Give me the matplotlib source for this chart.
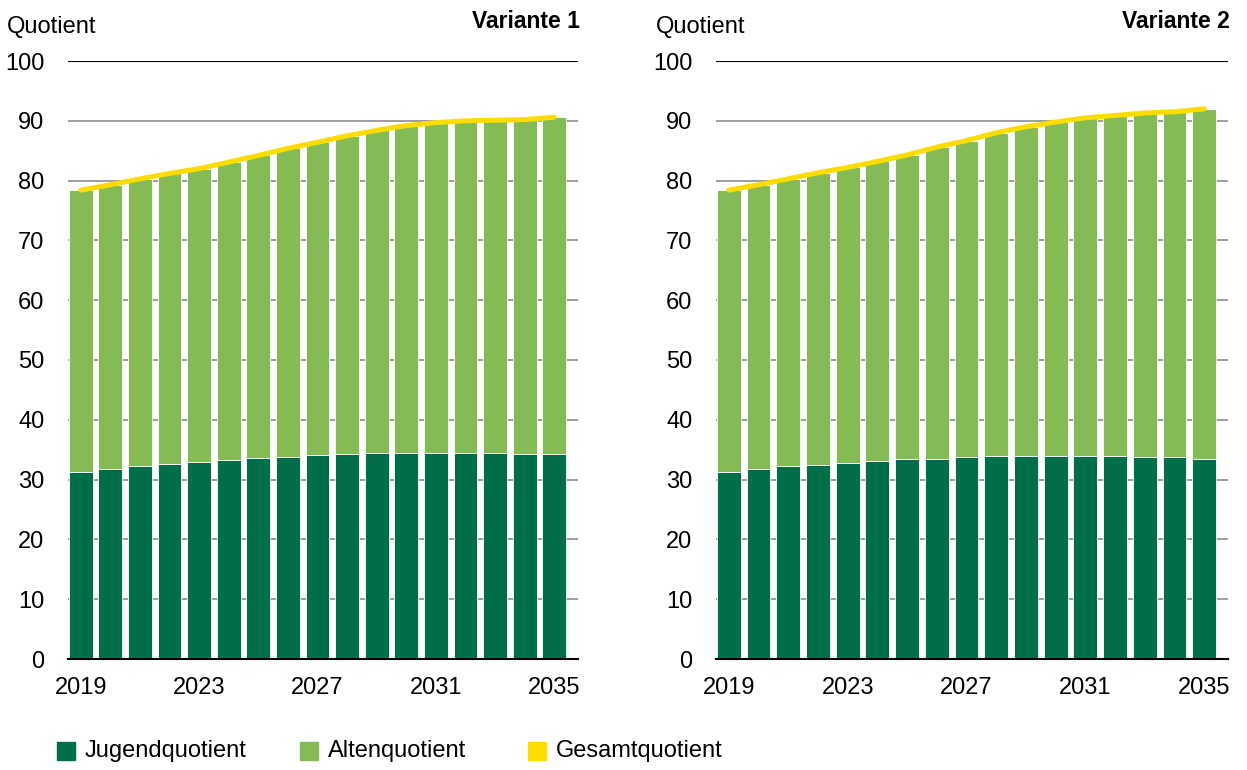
import matplotlib
matplotlib.use("Agg")
import matplotlib.pyplot as plt
from matplotlib.patches import Rectangle
import numpy as np

plt.rcParams['font.family'] = ['Liberation Sans', 'DejaVu Sans']

years = list(range(2019, 2036))
tick_years = [2019, 2023, 2027, 2031, 2035]
yticks = [0, 10, 20, 30, 40, 50, 60, 70, 80, 90, 100]

jugend_v1 = [31.3, 31.7, 32.2, 32.6, 32.9, 33.2, 33.6, 33.8, 34.1, 34.2, 34.4, 34.4, 34.5, 34.5, 34.4, 34.3, 34.2]
gesamt_v1 = [78.4, 79.3, 80.3, 81.2, 82.0, 83.1, 84.2, 85.4, 86.4, 87.5, 88.4, 89.2, 89.7, 90.0, 90.1, 90.2, 90.6]

jugend_v2 = [31.3, 31.7, 32.2, 32.5, 32.8, 33.1, 33.4, 33.5, 33.7, 33.9, 34.0, 34.0, 34.0, 33.9, 33.8, 33.7, 33.4]
gesamt_v2 = [78.4, 79.3, 80.3, 81.3, 82.2, 83.2, 84.3, 85.6, 86.7, 88.0, 89.0, 89.8, 90.5, 90.9, 91.3, 91.5, 92.0]

alten_v1 = [g - j for g, j in zip(gesamt_v1, jugend_v1)]
alten_v2 = [g - j for g, j in zip(gesamt_v2, jugend_v2)]

titles = ["Variante 1", "Variante 2"]
ylabel = "Quotient"
labels = ["Jugendquotient", "Altenquotient", "Gesamtquotient"]

C_DARK = "#006e4b"
C_LIGHT = "#84bb55"
C_YELLOW = "#ffdc00"
FS = 17

W, H = 1247, 770
fig = plt.figure(figsize=(W / 100, H / 100), dpi=100)

panels = [(68, 578, 7, jugend_v1, alten_v1, gesamt_v1, titles[0]),
          (716, 1228, 656, jugend_v2, alten_v2, gesamt_v2, titles[1])]

for x0, x1, qx, jug, alt, ges, title in panels:
    ax = fig.add_axes([x0 / W, (H - 659) / H, (x1 - x0) / W, 598 / H])
    x = np.arange(len(years))
    ax.bar(x, jug, width=0.8, color=C_DARK, edgecolor="white", linewidth=0.6, zorder=2)
    ax.bar(x, alt, bottom=jug, width=0.8, color=C_LIGHT, edgecolor="white", linewidth=0.6, zorder=2)
    ax.plot(x, ges, color=C_YELLOW, linewidth=3.6, solid_capstyle="round", zorder=3)
    ax.set_ylim(0, 100)
    ax.set_xlim(-0.43, 16.8)
    ax.set_yticks(yticks)
    ax.set_yticklabels([str(v) for v in yticks], fontsize=FS)
    ax.set_xticks([years.index(t) for t in tick_years])
    ax.set_xticklabels([str(t) for t in tick_years], fontsize=FS)
    ax.tick_params(axis="both", length=0)
    ax.tick_params(axis="y", pad=17)
    ax.tick_params(axis="x", pad=13)
    for v in yticks[1:-1]:
        ax.axhline(v, color="#8c8c8c", linewidth=1.2, zorder=1)
    ax.axhline(100, color="black", linewidth=1.5, zorder=1)
    for s in ["top", "right", "left"]:
        ax.spines[s].set_visible(False)
    ax.spines["bottom"].set_linewidth(1.5)
    ax.spines["bottom"].set_zorder(4)
    fig.text(qx / W, (H - 33) / H, ylabel, fontsize=FS, ha="left", va="baseline")
    fig.text((x1 + 2) / W, (H - 28) / H, title, fontsize=16.5, fontweight="bold",
             ha="right", va="baseline")

# legend
leg_items = [(57, C_DARK, labels[0]), (300, C_LIGHT, labels[1]), (528, C_YELLOW, labels[2])]
for lx, col, lab in leg_items:
    fig.patches.append(Rectangle((lx / W, (H - 760) / H), 18 / W, 18 / H,
                                 transform=fig.transFigure, color=col, figure=fig))
    fig.text((lx + 28) / W, (H - 751) / H, lab, fontsize=FS, ha="left", va="center")

fig.savefig("out.png", dpi=100)
